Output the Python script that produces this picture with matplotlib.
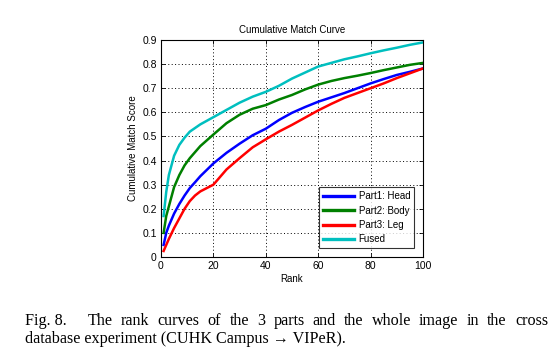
import matplotlib
matplotlib.use("Agg")
import matplotlib.pyplot as plt

ranks = [1, 2, 3, 5, 7, 9, 11, 13, 15, 20, 25, 30, 35, 40, 45, 50, 55, 60, 65, 70, 75, 80, 85, 90, 95, 100]
head = [0.05, 0.10, 0.13, 0.18, 0.22, 0.255, 0.286, 0.31, 0.335, 0.388, 0.432, 0.47, 0.505, 0.532, 0.568, 0.598,
        0.622, 0.644, 0.662, 0.68, 0.70, 0.72, 0.738, 0.755, 0.768, 0.782]
body = [0.10, 0.17, 0.21, 0.29, 0.34, 0.38, 0.41, 0.435, 0.46, 0.508, 0.555, 0.59, 0.615, 0.63, 0.653, 0.672,
        0.695, 0.715, 0.73, 0.742, 0.752, 0.763, 0.775, 0.786, 0.797, 0.805]
leg = [0.025, 0.05, 0.075, 0.12, 0.16, 0.20, 0.232, 0.255, 0.272, 0.30, 0.363, 0.41, 0.455, 0.488, 0.52, 0.548,
       0.578, 0.608, 0.635, 0.66, 0.68, 0.70, 0.72, 0.742, 0.762, 0.782]
fused = [0.17, 0.27, 0.34, 0.42, 0.465, 0.495, 0.52, 0.535, 0.55, 0.58, 0.61, 0.64, 0.665, 0.685, 0.71, 0.74,
         0.765, 0.79, 0.805, 0.82, 0.832, 0.845, 0.857, 0.868, 0.88, 0.89]
labels = ["Part1: Head", "Part2: Body", "Part3: Leg", "Fused"]
colors = ["#0000ff", "#008000", "#ff0000", "#00bfbf"]
xticks = [0, 20, 40, 60, 80, 100]
yticks = [0, 0.1, 0.2, 0.3, 0.4, 0.5, 0.6, 0.7, 0.8, 0.9]
ytick_labels = ["0", "0.1", "0.2", "0.3", "0.4", "0.5", "0.6", "0.7", "0.8", "0.9"]
caption_line1 = ["Fig. 8.", "The", "rank", "curves", "of", "the", "3", "parts", "and", "the", "whole",
                 "image", "in", "the", "cross"]
caption_line2 = "database experiment (CUHK Campus \u2192 VIPeR)."

plt.rcParams['font.family'] = ['Liberation Sans', 'DejaVu Sans']

fig = plt.figure(figsize=(5.54, 3.56), dpi=100)
ax = fig.add_axes([161/554, 1-257/356, 262/554, 217/356])

for series, lab, col in zip([head, body, leg, fused], labels, colors):
    ax.plot(ranks, series, color=col, lw=1.8, label=lab)

ax.set_xlim(0, 100)
ax.set_ylim(0, 0.9)
ax.set_xticks(xticks)
ax.set_yticks(yticks)
ax.set_yticklabels(ytick_labels)
ax.tick_params(direction='in', labelsize=7.5, length=3, width=0.6, top=True, right=True, pad=3)
ax.grid(True, linestyle=(0, (1, 2.5)), color='black', linewidth=0.7)
for s in ax.spines.values():
    s.set_linewidth(0.8)
ax.set_title("Cumulative Match Curve", fontsize=7, pad=5)
ax.set_xlabel("Rank", fontsize=7, labelpad=2)
ax.set_ylabel("Cumulative Match Score", fontsize=7, labelpad=3)

leg_ = ax.legend(loc='lower right', fontsize=7, frameon=True, fancybox=False, edgecolor='black',
                 borderaxespad=0.9, handlelength=3.2, labelspacing=0.45, borderpad=0.4, handletextpad=0.5)
leg_.get_frame().set_linewidth(0.8)
for h in leg_.get_lines():
    h.set_linewidth(2.4)

# caption, first line justified between x=25 and x=548 px
serif = ['Liberation Serif', 'DejaVu Serif']
fs = 11.6
renderer = fig.canvas.get_renderer()
left_px, right_px = 25, 548
y1 = 1 - 321/356
y2 = 1 - 339/356
texts = [fig.text(0, y1, w, family=serif, fontsize=fs, va='center', ha='left') for w in caption_line1]
widths = [t.get_window_extent(renderer).width for t in texts]
gap = (right_px - left_px - sum(widths)) / (len(texts) - 1 + 1.6)
x = left_px
for i, (t, w) in enumerate(zip(texts, widths)):
    t.set_x(x / 554)
    x += w + gap * (2.6 if i == 0 else 1.0)
fig.text(left_px / 554, y2, caption_line2, family=serif, fontsize=fs, va='center', ha='left')

fig.savefig("out.png", dpi=100)
